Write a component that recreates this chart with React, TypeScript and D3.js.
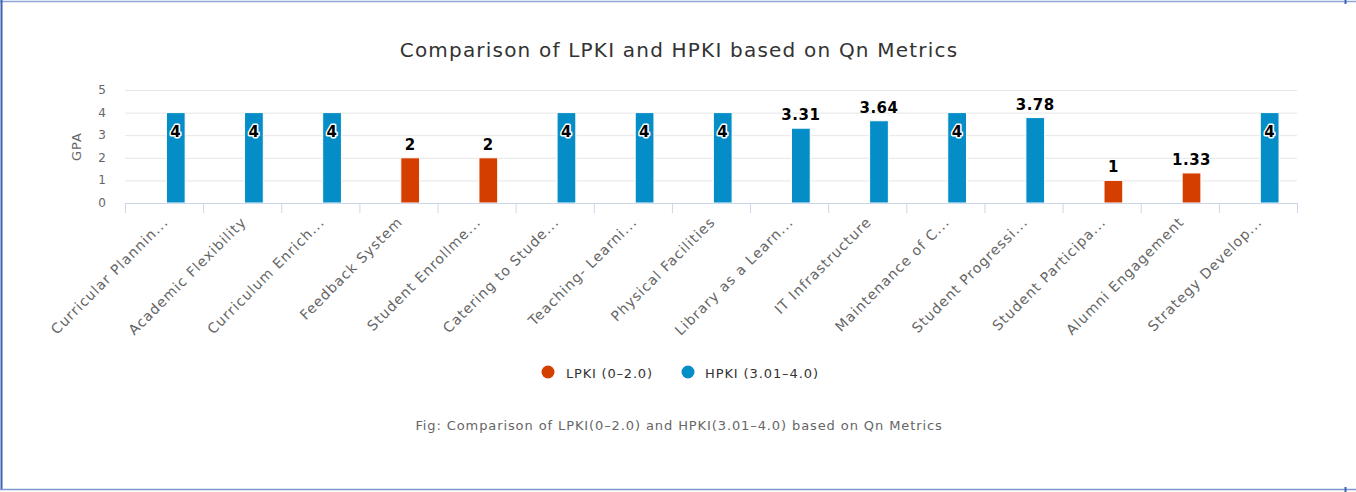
import React from 'react';
import * as d3 from 'd3';

const categories = [
  'Curricular Plannin...',
  'Academic Flexibility',
  'Curriculum Enrich...',
  'Feedback System',
  'Student Enrollme...',
  'Catering to Stude...',
  'Teaching- Learni...',
  'Physical Facilities',
  'Library as a Learn...',
  'IT Infrastructure',
  'Maintenance of C...',
  'Student Progressi...',
  'Student Participa...',
  'Alumni Engagement',
  'Strategy Develop...',
];
const lpkiValues = [null, null, null, 2, 2, null, null, null, null, null, null, null, 1, 1.33, null];
const hpkiValues = [4, 4, 4, null, null, 4, 4, 4, 3.31, 3.64, 4, 3.78, null, null, 4];
const yTicks = [0, 1, 2, 3, 4, 5];
const seriesNames = ['LPKI (0–2.0)', 'HPKI (3.01–4.0)'];
const seriesColors = ['#d43f00', '#058dc7'];

const W = 1356;
const H = 492;
const margin = { top: 90, left: 125, right: 59, bottom: 289 };
const font = '"DejaVu Sans", Verdana, sans-serif';

const App = () => {
  const x = d3
    .scaleBand()
    .domain(categories)
    .range([margin.left, W - margin.right])
    .padding(0);
  const y = d3.scaleLinear().domain([0, 5]).range([H - margin.bottom, margin.top]);
  const bw = x.bandwidth();
  // two column slots per category, every point sits in the second one
  const slot = d3
    .scaleBand()
    .domain(['0', '1'])
    .range([bw * 0.2, bw * 0.8])
    .paddingInner(0.2)
    .paddingOuter(0.1);

  const bars = categories.map((c, i) => {
    const low = lpkiValues[i];
    const high = hpkiValues[i];
    const v = low != null ? low : high;
    return { c, v: v as number, color: low != null ? seriesColors[0] : seriesColors[1] };
  });

  const y0 = y(0);
  const ticks = categories.map((c) => x(c)!).concat([x.range()[1]]);

  return (
    <svg
      width={W}
      height={H}
      style={{ position: 'absolute', left: 0, top: 0, fontFamily: font }}
    >
      <rect x={0} y={0} width={W} height={H} fill="#fff" />
      {/* frame */}
      <line x1={0} x2={W} y1={1.5} y2={1.5} stroke="#8da6d6" strokeWidth={1.5} />
      <line x1={1.5} x2={1.5} y1={0} y2={490} stroke="#3f63b0" strokeWidth={2} />
      <line x1={0} x2={W} y1={489.5} y2={489.5} stroke="#7d98cf" strokeWidth={1.5} />
      <line x1={1345.5} x2={1345.5} y1={0} y2={4} stroke="#3f63b0" strokeWidth={2} />
      <line x1={1345.5} x2={1345.5} y1={487} y2={492} stroke="#3f63b0" strokeWidth={2} />

      <text x={679} y={57} textAnchor="middle" fontSize={20} letterSpacing={1.2} fill="#333">
        Comparison of LPKI and HPKI based on Qn Metrics
      </text>

      {yTicks.map((t) => (
        <g key={t}>
          {t > 0 && (
            <line x1={x.range()[0]} x2={x.range()[1]} y1={y(t) + 0.5} y2={y(t) + 0.5} stroke="#e6e6e6" />
          )}
          <text x={106} y={y(t) + 4} textAnchor="end" fontSize={12} fill="#666">
            {t}
          </text>
        </g>
      ))}
      <text
        transform={`translate(${81},${y(2.5)}) rotate(-90)`}
        textAnchor="middle"
        fontSize={13}
        letterSpacing={1}
        fill="#666"
      >
        GPA
      </text>

      {bars.map((d) => (
        <rect
          key={d.c}
          x={x(d.c)! + slot('1')!}
          y={y(d.v)}
          width={slot.bandwidth()}
          height={y0 - y(d.v)}
          fill={d.color}
          stroke="#fff"
          strokeWidth={1}
        />
      ))}

      <line x1={x.range()[0]} x2={x.range()[1]} y1={y0 + 0.5} y2={y0 + 0.5} stroke="#ccd6eb" strokeWidth={1} />
      {ticks.map((t, i) => (
        <line key={i} x1={t + 0.5} x2={t + 0.5} y1={y0} y2={y0 + 10} stroke="#ccd6eb" />
      ))}

      {bars.map((d) => {
        const cx = x(d.c)! + slot('1')! + slot.bandwidth() / 2;
        const inside = d.v >= 4;
        return (
          <text
            key={'l' + d.c}
            x={cx}
            y={inside ? y(d.v) + 24 : y(d.v) - 8}
            textAnchor="middle"
            fontSize={15}
            letterSpacing={0.5}
            fontWeight="bold"
            fill="#000"
            stroke="#fff"
            strokeWidth={inside ? 3 : 0}
            paintOrder="stroke"
            strokeLinejoin="round"
          >
            {d.v}
          </text>
        );
      })}

      {categories.map((c) => {
        const cx = x(c)! + bw / 2 + 5;
        return (
          <text
            key={'x' + c}
            transform={`translate(${cx},${y0 + 20}) rotate(-45)`}
            textAnchor="end"
            fontSize={14}
            letterSpacing={1}
            fill="#666"
          >
            {c}
          </text>
        );
      })}

      <g transform="translate(548,372)">
        <circle cx={0} cy={0} r={6.5} fill={seriesColors[0]} />
        <text x={18} y={5.5} fontSize={13} letterSpacing={0.8} fill="#333">
          {seriesNames[0]}
        </text>
        <circle cx={140} cy={0} r={6.5} fill={seriesColors[1]} />
        <text x={157} y={5.5} fontSize={13} letterSpacing={0.9} fill="#333">
          {seriesNames[1]}
        </text>
      </g>

      <text x={679} y={429.5} textAnchor="middle" fontSize={13} letterSpacing={0.9} fill="#666">
        Fig: Comparison of LPKI(0–2.0) and HPKI(3.01–4.0) based on Qn Metrics
      </text>
    </svg>
  );
};

export default App;
